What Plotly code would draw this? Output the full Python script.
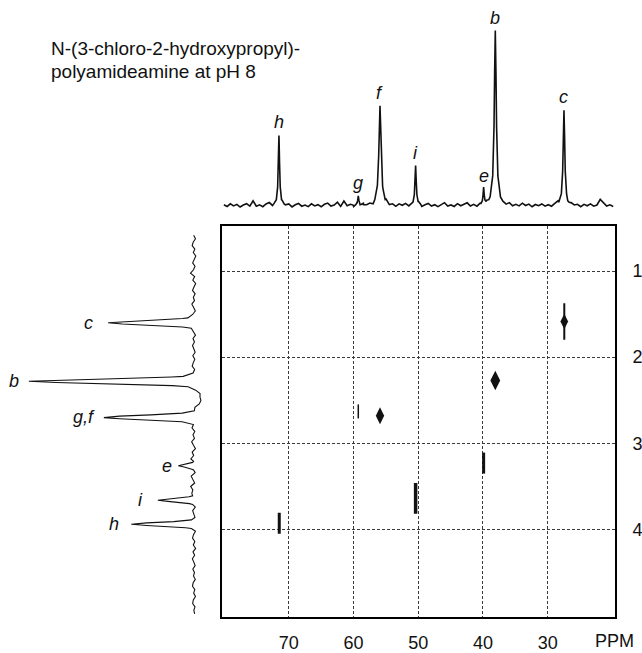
import numpy as np
import plotly.graph_objects as go

# ---------------- data ----------------
# 13C projection (top): peak positions (ppm), relative intensities, half widths
c13_ppm = [71.5, 59.25, 55.9, 50.4, 39.9, 38.1, 27.5]
c13_int = [40.0, 5.3, 57.0, 22.7, 9.5, 100.0, 54.4]
c13_hw = [0.12, 0.10, 0.20, 0.12, 0.10, 0.18, 0.15]
c13_labels = ["h", "g", "f", "i", "e", "b", "c"]

# 1H projection (left): peak positions (ppm), relative intensities, widths
h1_ppm = [1.60, 2.28, 2.70, 3.26, 3.66, 3.94, 2.48]
h1_int = [52.0, 100.0, 54.0, 8.0, 21.0, 38.0, -4.5]
h1_sd = [0.025, 0.025, 0.025, 0.02, 0.02, 0.02, 0.06]
h1_labels = ["c", "b", "g,f", "e", "i", "h", ""]

# baseline wiggles
top_noise = [
    0.4, -0.6, 0.9, -0.3, 0.6, -0.9, 0.2, 1.0, -0.4, 2.6,
    -0.5, 0.3, -0.8, 0.7, 1.4, -0.6, 0.1, -0.9, 0.8, -0.2,
    0.6, -1.0, 0.3, 1.1, -0.5, 0.2, -0.7, 0.9, -0.3, 0.4,
    -0.8, 0.6, 1.3, -0.4, 0.2, 1.8, -0.6, 2.4, -0.3, 0.5,
    -0.9, 0.3, -0.5, 0.8, -0.2, 0.4, -1.0, 0.7, -0.4, 0.2,
    1.2, -0.6, 0.3, -0.9, 0.6, -0.2, 0.9, -0.7, 0.4, -0.3,
    0.7, -1.0, 0.2, 1.0, -0.5, 0.3, -0.8, 0.6, 1.5, -0.4,
    0.2, -0.7, 0.9, -0.3, 0.5, 1.3, -0.6, 0.3, -0.9, 0.4,
    -0.2, 0.8, -0.5, 0.3, -1.0, 0.6, 0.1, -0.4, 0.9, -0.7,
    0.3, -0.5, 1.1, -0.2, 0.6, -0.9, 0.4, -0.3, 0.7, -0.6,
    0.2, -0.8, 0.5, 1.2, -0.4, 0.3, -0.7, 0.6, -0.2, 0.4,
    -0.9, 0.5, -0.3, 0.8, -0.5, 0.2, 3.4, 1.6, -0.4, 0.3, -0.6,
]
left_noise = [
    0.3, -0.8, 0.6, 1.2, -0.4, 0.5, -1.0, 0.2, 0.9, -0.5,
    0.4, 2.2, -0.3, 0.8, -0.9, 0.1, 1.0, -0.6, 0.5, -0.2,
    1.4, 0.3, -0.7, 0.9, -0.4, 0.6, 1.1, -0.3, 0.2, -0.8,
    0.7, -0.2, 1.0, 0.3, -0.6, 0.8, -0.4, 0.5, 1.2, -0.3,
    0.6, -0.9, 0.4, 1.0, -0.2, 0.3, -0.7, 0.8, 0.1, -0.5,
    0.6, -0.3, 0.4, 0.9, -0.6, 0.2, 1.3, -0.4, 0.7, -0.2,
    1.5, 0.4, -0.8, 1.2, 0.3, 2.0, -0.4, 1.6, 0.5, -0.6,
    1.8, 0.6, -0.3, 2.1, 0.8, 1.4, -0.2, 1.0, 0.4, -0.7,
    0.9, 0.3, -0.5, 1.2, -0.2, 0.6, -0.8, 0.4, 1.0, -0.4,
    0.5, -0.9, 0.7, -0.3, 1.1, 0.2, -0.6, 0.8, -0.2, 0.4,
    -0.7, 0.6, 1.0, -0.4, 0.3, -0.8, 0.5, 0.9, -0.5, 0.2, -0.3,
]

# 2D cross peaks (13C ppm, 1H ppm)
cross_c13 = [27.45, 38.1, 55.9, 59.25, 39.9, 50.4, 71.45]
cross_h1 = [1.585, 2.27, 2.68, 2.63, 3.23, 3.64, 3.93]
cross_names = ["c", "b", "f", "g", "e", "i", "h"]

x_ticks = [70, 60, 50, 40, 30]
y_ticks = [1, 2, 3, 4]
title_lines = ["N-(3-chloro-2-hydroxypropyl)-", "polyamideamine at pH 8"]

# ---------------- layout constants ----------------
W, H = 642, 653
X_RANGE = [80.25, 19.65]
Y_RANGE = [5.02, 0.48]
FONT = "Liberation Sans, Arial, Helvetica, sans-serif"
INK = "#111111"


def px_x(p):
    return p / W


def px_y(p):
    return 1 - p / H


# ---------------- build projections ----------------
top_grid = np.linspace(80.0, 19.9, len(top_noise))
top_extra = np.array([c + d for c in c13_ppm for d in (-0.8, -0.4, -0.2, -0.1, 0, 0.1, 0.2, 0.4, 0.8)])
top_x = np.concatenate([top_grid, top_extra])
top_n = np.concatenate([np.array(top_noise), np.zeros(len(top_extra))])
order = np.argsort(-top_x)
top_x, top_n = top_x[order], top_n[order]
top_y = top_n.copy()
for p, a, w in zip(c13_ppm, c13_int, c13_hw):
    top_y += a / (1 + ((top_x - p) / w) ** 2)

left_grid = np.linspace(0.585, 4.98, len(left_noise))
left_extra = np.array([c + d for c in h1_ppm[:-1] for d in (-0.05, -0.03, -0.015, 0, 0.015, 0.03, 0.05)])
left_y = np.concatenate([left_grid, left_extra])
left_n = np.concatenate([np.array(left_noise), np.zeros(len(left_extra))])
order = np.argsort(left_y)
left_y, left_n = left_y[order], left_n[order]
left_x = left_n.copy()
for p, a, s in zip(h1_ppm, h1_int, h1_sd):
    left_x += a * np.exp(-0.5 * ((left_y - p) / s) ** 2)

fig = go.Figure()

fig.add_trace(go.Scatter(x=top_x, y=top_y, xaxis="x2", yaxis="y2", mode="lines",
                         line=dict(color=INK, width=1.6), hoverinfo="skip", showlegend=False))
fig.add_trace(go.Scatter(x=left_x, y=left_y, xaxis="x3", yaxis="y3", mode="lines",
                         line=dict(color=INK, width=1.1), hoverinfo="skip", showlegend=False))

# cross peak styles
cross_style = {
    "c": [("diamond-tall", 11, 0), ("line-ns", 26, 2)],
    "b": [("diamond-tall", 14, 0)],
    "f": [("diamond-tall", 12, 0)],
    "g": [("line-ns", 10, 1.5)],
    "e": [("line-ns", 15, 3)],
    "i": [("line-ns", 22, 3.5)],
    "h": [("line-ns", 15, 3)],
}
for cx, cy, name in zip(cross_c13, cross_h1, cross_names):
    for sym, size, lw in cross_style[name]:
        fig.add_trace(go.Scatter(
            x=[cx], y=[cy], mode="markers", showlegend=False, hoverinfo="skip",
            marker=dict(symbol=sym, size=size, color=INK,
                        line=dict(color=INK, width=lw)),
        ))

annotations = []
for line, yp in zip(title_lines, (49.3, 71.7)):
    annotations.append(dict(text=line, x=px_x(49), y=px_y(yp), xref="paper", yref="paper",
                            xanchor="left", yanchor="middle", showarrow=False,
                            font=dict(family=FONT, size=19, color=INK)))
annotations.append(dict(text="PPM", x=px_x(617), y=px_y(645), xref="paper", yref="paper",
                        xanchor="center", yanchor="middle", showarrow=False,
                        font=dict(family=FONT, size=18, color=INK)))

for p, a, lab in zip(c13_ppm, c13_int, c13_labels):
    annotations.append(dict(text=lab, x=p, y=a, xref="x2", yref="y2", xanchor="center",
                            yanchor="bottom", yshift=1, showarrow=False,
                            font=dict(family=FONT, size=18, color=INK, style="italic")))

left_gap = [13, 8, 8, 7, 14, 10]
for p, a, lab, g in zip(h1_ppm, h1_int, h1_labels, left_gap):
    annotations.append(dict(text=lab, x=a, y=p, xref="x3", yref="y3", xanchor="right",
                            yanchor="middle", xshift=-g, showarrow=False,
                            font=dict(family=FONT, size=18, color=INK, style="italic")))

fig.update_layout(
    width=W, height=H, margin=dict(l=0, r=0, t=0, b=0),
    paper_bgcolor="white", plot_bgcolor="rgba(0,0,0,0)",
    showlegend=False,
    font=dict(family=FONT, size=18, color=INK),
    xaxis=dict(domain=[px_x(223.3), px_x(617.7)], range=X_RANGE, tickvals=x_ticks,
               showgrid=True, gridcolor="#3a3a3a", gridwidth=1, griddash="3px,2px",
               showline=True, mirror=True, linecolor="black", linewidth=2,
               ticks="", ticklabelstandoff=8, zeroline=False,
               tickfont=dict(family=FONT, size=18, color=INK)),
    yaxis=dict(domain=[px_y(621), px_y(227.7)], range=Y_RANGE, tickvals=y_ticks, side="right",
               showgrid=True, gridcolor="#3a3a3a", gridwidth=1, griddash="3px,2px",
               showline=True, mirror=True, linecolor="black", linewidth=2,
               ticks="", ticklabelstandoff=12, zeroline=False,
               tickfont=dict(family=FONT, size=18, color=INK)),
    xaxis2=dict(domain=[px_x(223.3), px_x(617.7)], range=X_RANGE, anchor="y2",
                visible=False),
    yaxis2=dict(domain=[px_y(215), px_y(20)], range=[-4.7, 106.1], anchor="x2",
                visible=False),
    xaxis3=dict(domain=[px_x(10), px_x(215)], range=[111.4, -12.0], anchor="y3",
                visible=False),
    yaxis3=dict(domain=[px_y(621), px_y(227.7)], range=Y_RANGE, anchor="x3",
                visible=False),
    annotations=annotations,
)

fig.write_html("out.html", config={"displayModeBar": False},
               post_script="document.body.style.margin='0';document.body.style.overflow='hidden';")
